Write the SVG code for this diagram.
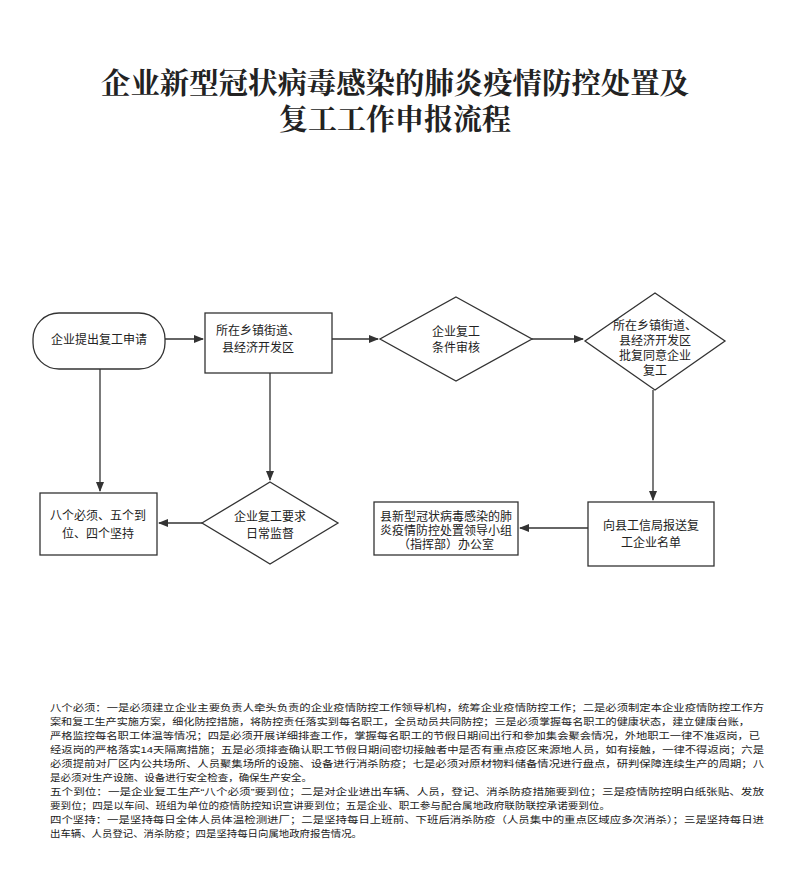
<svg xmlns="http://www.w3.org/2000/svg" width="800" height="892" viewBox="0 0 800 892">
<style>
.s{fill:#fff;stroke:#333;stroke-width:1.3}
.t{font-family:"Liberation Sans","Noto Sans CJK SC",sans-serif;font-size:12px;fill:#222;text-anchor:middle}
.b{font-family:"Liberation Sans","Noto Sans CJK SC",sans-serif;font-size:9.5px;fill:#222}
.h{font-family:"Liberation Serif","Noto Serif CJK SC","Noto Sans CJK SC",serif;font-size:29px;font-weight:bold;fill:#222;text-anchor:middle}
.c{stroke:#333;stroke-width:1.3;fill:none;marker-end:url(#a)}
</style>
<defs><marker id="a" markerWidth="10" markerHeight="8" refX="9" refY="4" orient="auto" markerUnits="userSpaceOnUse"><path d="M0,0L10,4L0,8z" fill="#333"/></marker></defs>
<rect width="800" height="892" fill="#fff"/>
<text class="h" x="395" y="94" textLength="588" lengthAdjust="spacingAndGlyphs">企业新型冠状病毒感染的肺炎疫情防控处置及</text>
<text class="h" x="395" y="130">复工工作申报流程</text>
<g id="connectors">
<path class="c" d="M165,339H203"/>
<path class="c" d="M332,339H378"/>
<path class="c" d="M532,339H583"/>
<path class="c" d="M100,369V491"/>
<path class="c" d="M270,373V480"/>
<path class="c" d="M653,390V500"/>
<path class="c" d="M202,523H159"/>
<path class="c" d="M588,528H520"/>
</g>
<g id="n1"><rect class="s" x="33" y="313" width="132" height="56" rx="26"/><text class="t" x="99" y="344">企业提出复工申请</text></g>
<g id="n2"><rect class="s" x="205" y="313" width="127" height="60"/><text class="t" x="258" y="335">所在乡镇街道、</text><text class="t" x="258" y="352">县经济开发区</text></g>
<g id="n3"><path class="s" d="M456,297L532,339L456,381L380,339Z"/><text class="t" x="456" y="336">企业复工</text><text class="t" x="456" y="352">条件审核</text></g>
<g id="n4"><path class="s" d="M655,293L725,341L655,390L585,341Z"/><text class="t" x="655" y="330" font-size="11">所在乡镇街道、</text><text class="t" x="655" y="345" font-size="11">县经济开发区</text><text class="t" x="655" y="360" font-size="11">批复同意企业</text><text class="t" x="655" y="375" font-size="11">复工</text></g>
<g id="n5"><rect class="s" x="40" y="493" width="117" height="62"/><text class="t" x="98" y="520">八个必须、五个到</text><text class="t" x="98" y="538">位、四个坚持</text></g>
<g id="n6"><path class="s" d="M270,482L338,523L270,564L202,523Z"/><text class="t" x="270" y="521">企业复工要求</text><text class="t" x="270" y="538">日常监督</text></g>
<g id="n7"><rect class="s" x="374" y="502" width="144" height="53"/><text class="t" x="446" y="521" font-size="11">县新型冠状病毒感染的肺</text><text class="t" x="446" y="535" font-size="11">炎疫情防控处置领导小组</text><text class="t" x="446" y="549" font-size="11">（指挥部）办公室</text></g>
<g id="n8"><rect class="s" x="588" y="502" width="126" height="64"/><text class="t" x="651" y="530">向县工信局报送复</text><text class="t" x="651" y="547">工企业名单</text></g>
<g id="notes">
<text class="b" x="50" y="711" textLength="714" lengthAdjust="spacingAndGlyphs">八个必须：一是必须建立企业主要负责人牵头负责的企业疫情防控工作领导机构，统筹企业疫情防控工作；二是必须制定本企业疫情防控工作方</text>
<text class="b" x="50" y="725" textLength="700" lengthAdjust="spacingAndGlyphs">案和复工生产实施方案，细化防控措施，将防控责任落实到每名职工，全员动员共同防控；三是必须掌握每名职工的健康状态，建立健康台账，</text>
<text class="b" x="50" y="739" textLength="710" lengthAdjust="spacingAndGlyphs">严格监控每名职工体温等情况；四是必须开展详细排查工作，掌握每名职工的节假日期间出行和参加集会聚会情况，外地职工一律不准返岗，已</text>
<text class="b" x="50" y="753" textLength="714" lengthAdjust="spacingAndGlyphs">经返岗的严格落实14天隔离措施；五是必须排查确认职工节假日期间密切接触者中是否有重点疫区来源地人员，如有接触，一律不得返岗；六是</text>
<text class="b" x="50" y="767" textLength="714" lengthAdjust="spacingAndGlyphs">必须提前对厂区内公共场所、人员聚集场所的设施、设备进行消杀防疫；七是必须对原材物料储备情况进行盘点，研判保障连续生产的周期；八</text>
<text class="b" x="50" y="781" textLength="262" lengthAdjust="spacingAndGlyphs">是必须对生产设施、设备进行安全检查，确保生产安全。</text>
<text class="b" x="50" y="795" textLength="714" lengthAdjust="spacingAndGlyphs">五个到位：一是企业复工生产“八个必须”要到位；二是对企业进出车辆、人员，登记、消杀防疫措施要到位；三是疫情防控明白纸张贴、发放</text>
<text class="b" x="50" y="809" textLength="560" lengthAdjust="spacingAndGlyphs">要到位；四是以车间、班组为单位的疫情防控知识宣讲要到位；五是企业、职工参与配合属地政府联防联控承诺要到位。</text>
<text class="b" x="50" y="823" textLength="714" lengthAdjust="spacingAndGlyphs">四个坚持：一是坚持每日全体人员体温检测进厂；二是坚持每日上班前、下班后消杀防疫（人员集中的重点区域应多次消杀）；三是坚持每日进</text>
<text class="b" x="50" y="837" textLength="312" lengthAdjust="spacingAndGlyphs">出车辆、人员登记、消杀防疫；四是坚持每日向属地政府报告情况。</text>
</g>
</svg>
